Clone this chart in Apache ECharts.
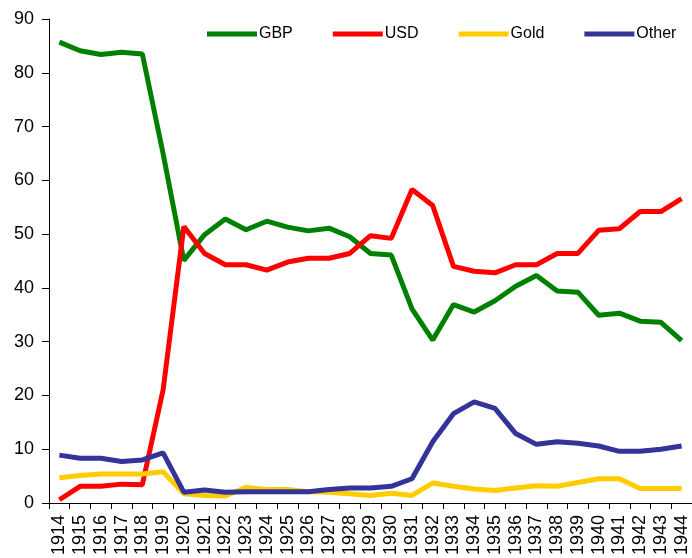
<!DOCTYPE html>
<html>
<head>
<meta charset="utf-8">
<script src="https://cdn.jsdelivr.net/npm/echarts@6/dist/echarts.min.js"></script>
<style>
  html, body { margin: 0; padding: 0; background: #fff; }
  #chart { width: 692px; height: 558px; }
</style>
</head>
<body>
<div id="chart"></div>
<script>
  // years on the x axis
  var years = ['1914','1915','1916','1917','1918','1919','1920','1921','1922','1923',
               '1924','1925','1926','1927','1928','1929','1930','1931','1932','1933',
               '1934','1935','1936','1937','1938','1939','1940','1941','1942','1943','1944'];

  // shares
  var gbp = [85.7, 84.1, 83.4, 83.8, 83.5, 65.0, 45.1, 49.9, 52.8, 50.8,
             52.4, 51.3, 50.6, 51.1, 49.5, 46.4, 46.1, 36.1, 30.3, 36.9,
             35.5, 37.6, 40.3, 42.3, 39.4, 39.2, 34.9, 35.3, 33.8, 33.6, 30.2];
  var usd = [0.6, 3.1, 3.1, 3.5, 3.4, 21.0, 51.4, 46.4, 44.3, 44.3,
             43.3, 44.8, 45.5, 45.5, 46.4, 49.7, 49.2, 58.3, 55.3, 44.0,
             43.1, 42.8, 44.3, 44.3, 46.4, 46.4, 50.7, 51.0, 54.2, 54.2, 56.6];
  var gold = [4.7, 5.1, 5.4, 5.4, 5.4, 5.8, 1.7, 1.4, 1.3, 2.9,
              2.5, 2.5, 2.1, 2.0, 1.7, 1.4, 1.8, 1.4, 3.7, 3.1,
              2.6, 2.3, 2.8, 3.2, 3.1, 3.8, 4.5, 4.5, 2.7, 2.7, 2.7];
  var other = [8.9, 8.3, 8.3, 7.7, 8.0, 9.3, 2.0, 2.4, 2.0, 2.1,
               2.1, 2.1, 2.1, 2.5, 2.8, 2.8, 3.1, 4.5, 11.4, 16.6,
               18.8, 17.6, 12.9, 10.9, 11.4, 11.1, 10.6, 9.6, 9.6, 10.0, 10.6];

  var seriesNames = ['GBP', 'USD', 'Gold', 'Other'];
  var seriesColors = ['#008000', '#ff0000', '#ffcc00', '#333399'];
  var seriesData = [gbp, usd, gold, other];

  var font = 'Arial, "Liberation Sans", sans-serif';
  var myChart = echarts.init(document.getElementById('chart'));

  var myseries = [];
  seriesNames.forEach(function (name, i) {
    myseries.push({
      name: name,
      type: 'line',
      data: seriesData[i],
      showSymbol: false,
      symbol: 'none',
      lineStyle: { color: seriesColors[i], width: 5 },
      itemStyle: { color: seriesColors[i] },
      emphasis: { disabled: true }
    });
  });

  var option = {
    animation: false,
    legend: {
      left: 202,
      top: 21,
      icon: 'rect',
      itemWidth: 50,
      itemHeight: 5,
      itemGap: 40,
      textStyle: { fontFamily: font, fontSize: 16, color: '#000', padding: [0, 0, 0, -3] },
      data: seriesNames
    },
    grid: { left: 49, top: 19, width: 648, bottom: 54 },
    xAxis: {
      type: 'category',
      data: years,
      boundaryGap: true,
      axisLine: { lineStyle: { color: '#000', width: 1 } },
      axisTick: { show: true, interval: 0, length: 6, lineStyle: { color: '#000' } },
      axisLabel: { interval: 0, rotate: 90, margin: 12, fontFamily: font, fontSize: 18, color: '#000' },
      splitLine: { show: false }
    },
    yAxis: {
      type: 'value',
      min: 0,
      max: 90,
      interval: 10,
      axisLine: { show: true, lineStyle: { color: '#000', width: 1 } },
      axisTick: { show: true, length: 7, lineStyle: { color: '#000' } },
      axisLabel: { margin: 15, fontFamily: font, fontSize: 18, color: '#000' },
      splitLine: { show: false }
    },
    series: myseries
  };
  myChart.setOption(option);
</script>
</body>
</html>
